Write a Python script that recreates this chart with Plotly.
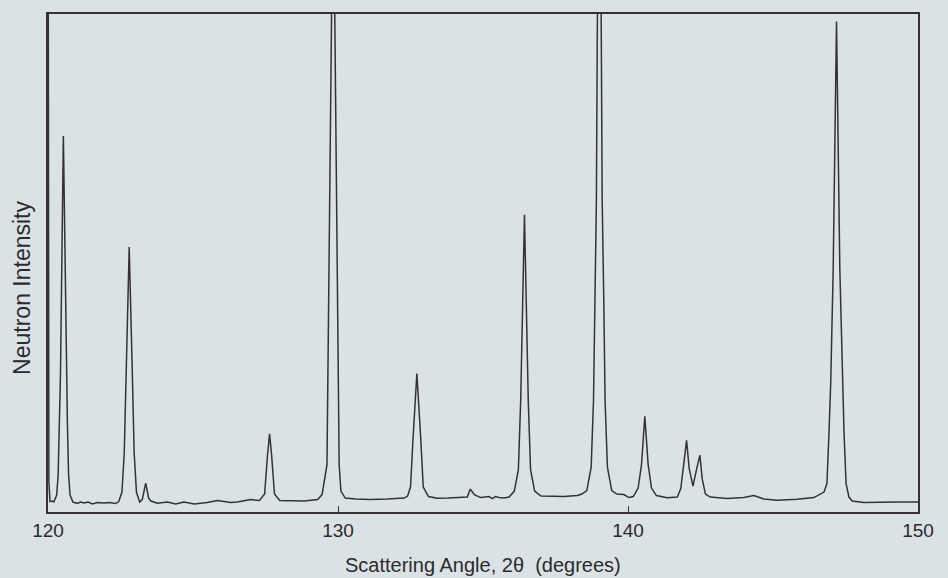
import plotly.graph_objects as go

# Scattering angle 2-theta (degrees)
angle_deg = [
    120.00, 120.03, 120.07, 120.14, 120.20, 120.30, 120.35, 120.39, 120.43, 120.53,
    120.63, 120.67, 120.71, 120.76, 120.86, 121.01, 121.12, 121.24, 121.38, 121.53,
    121.70, 121.93, 122.12, 122.33, 122.44, 122.55, 122.63, 122.69, 122.80, 122.91,
    122.97, 123.05, 123.16, 123.25, 123.37, 123.47, 123.55, 123.77, 124.12, 124.40,
    124.69, 125.04, 125.49, 125.84, 126.30, 126.53, 126.99, 127.29, 127.47, 127.57,
    127.64, 127.71, 127.81, 127.99, 128.40, 128.83, 129.30, 129.45, 129.62, 129.685,
    129.77, 129.83, 129.89, 129.975, 130.04, 130.10, 130.25, 130.60, 131.12, 131.70,
    132.28, 132.40, 132.50, 132.59, 132.72, 132.85, 132.94, 133.12, 133.42, 133.80,
    134.11, 134.46, 134.56, 134.70, 134.92, 135.21, 135.32, 135.43, 135.55, 135.72,
    135.90, 136.08, 136.22, 136.30, 136.37, 136.43, 136.49, 136.56, 136.64, 136.78,
    137.00, 137.40, 137.79, 138.25, 138.41, 138.58, 138.73, 138.81, 138.855, 138.91,
    138.94, 139.01, 139.08, 139.11, 139.165, 139.21, 139.29, 139.44, 139.61, 139.86,
    140.03, 140.18, 140.35, 140.465, 140.58, 140.695, 140.81, 140.98, 141.35, 141.70,
    141.82, 141.92, 142.02, 142.11, 142.24, 142.37, 142.48, 142.56, 142.67, 142.84,
    143.42, 143.99, 144.34, 144.68, 145.14, 145.83, 146.41, 146.76, 146.86, 146.93,
    146.99, 147.075, 147.19, 147.305, 147.39, 147.45, 147.52, 147.62, 147.73, 148.13,
    149.28, 150.00,
]

# Neutron intensity (percent of the plotted height)
intensity = [
    150.0, 6.0, 2.1, 2.2, 2.0, 3.4, 7.5, 17.5, 27.6, 75.5,
    27.6, 17.5, 7.5, 3.4, 2.0, 1.7, 2.0, 1.8, 2.0, 1.6,
    1.9, 1.8, 1.9, 1.7, 2.1, 4.0, 12.0, 27.3, 53.2, 27.3,
    12.0, 4.0, 2.0, 2.5, 5.8, 2.8, 2.2, 1.75, 2.0, 1.6,
    2.0, 1.6, 1.9, 2.3, 1.9, 2.0, 2.5, 2.3, 3.6, 11.5,
    15.7, 11.5, 3.6, 2.3, 2.2, 2.2, 2.5, 3.5, 9.5, 42.9,
    95.1, 135.0, 95.1, 42.9, 9.5, 4.2, 2.8, 2.6, 2.5, 2.6,
    2.8, 3.2, 5.0, 15.0, 27.8, 15.0, 5.0, 3.1, 2.75, 2.8,
    2.9, 3.0, 4.6, 3.5, 2.9, 3.1, 2.7, 3.1, 2.9, 2.8,
    3.0, 4.2, 8.5, 22.5, 42.6, 59.7, 42.6, 22.5, 8.5, 4.2,
    3.2, 3.1, 3.1, 3.3, 3.6, 4.3, 9.0, 22.3, 42.4, 62.6,
    94.7, 150.0, 94.7, 62.6, 42.4, 22.3, 9.0, 4.3, 3.6, 3.5,
    2.9, 3.1, 4.8, 9.5, 19.2, 9.5, 4.8, 3.3, 2.85, 3.0,
    4.7, 9.4, 14.4, 8.7, 5.2, 8.7, 11.4, 6.6, 3.6, 3.0,
    2.7, 2.9, 3.3, 2.6, 2.35, 2.55, 2.9, 4.0, 5.7, 15.8,
    25.8, 48.6, 98.5, 48.6, 25.8, 15.8, 5.7, 3.0, 2.2, 1.9,
    2.0, 2.0,
]

x_ticks = [120, 130, 140, 150]
x_range = [120, 150]
y_range = [0, 100]

BG = "#dbe2e5"
INK = "#333333"
FONT = "Liberation Sans, Arial, sans-serif"

fig = go.Figure()
fig.add_trace(go.Scatter(
    x=angle_deg, y=intensity, mode="lines",
    line=dict(color=INK, width=1.5),
    hoverinfo="skip", showlegend=False,
))

fig.update_layout(
    width=948, height=578,
    paper_bgcolor=BG, plot_bgcolor=BG,
    margin=dict(l=48, r=30, t=14, b=66),
    font=dict(family=FONT, color="#2b2b2b"),
    xaxis=dict(
        range=x_range, tickvals=x_ticks, ticktext=[str(t) for t in x_ticks],
        ticks="inside", ticklen=6, tickwidth=1.2, tickcolor=INK,
        showline=True, linecolor=INK, linewidth=1.6, mirror=True,
        showgrid=False, zeroline=False,
        tickfont=dict(size=19, family=FONT, color="#2b2b2b"),
        fixedrange=True,
    ),
    yaxis=dict(
        range=y_range, showticklabels=False, ticks="",
        showline=True, linecolor=INK, linewidth=1.6, mirror=True,
        showgrid=False, zeroline=False, fixedrange=True,
    ),
    annotations=[
        dict(text="Scattering Angle, 2\u03b8\u00a0 (degrees)", xref="paper", yref="paper",
             x=0.5, y=0, yshift=-53, xanchor="center", yanchor="middle",
             showarrow=False, font=dict(size=20, family=FONT, color="#2b2b2b")),
        dict(text="Neutron Intensity", xref="paper", yref="paper",
             x=0, y=0.45, xshift=-26, xanchor="center", yanchor="middle", textangle=-90,
             showarrow=False, font=dict(size=23, family=FONT, color="#2b2b2b")),
    ],
)

fig.write_html(
    "out.html",
    config={"displayModeBar": False},
    post_script="document.body.style.margin='0';document.body.style.background='%s';" % BG,
)
